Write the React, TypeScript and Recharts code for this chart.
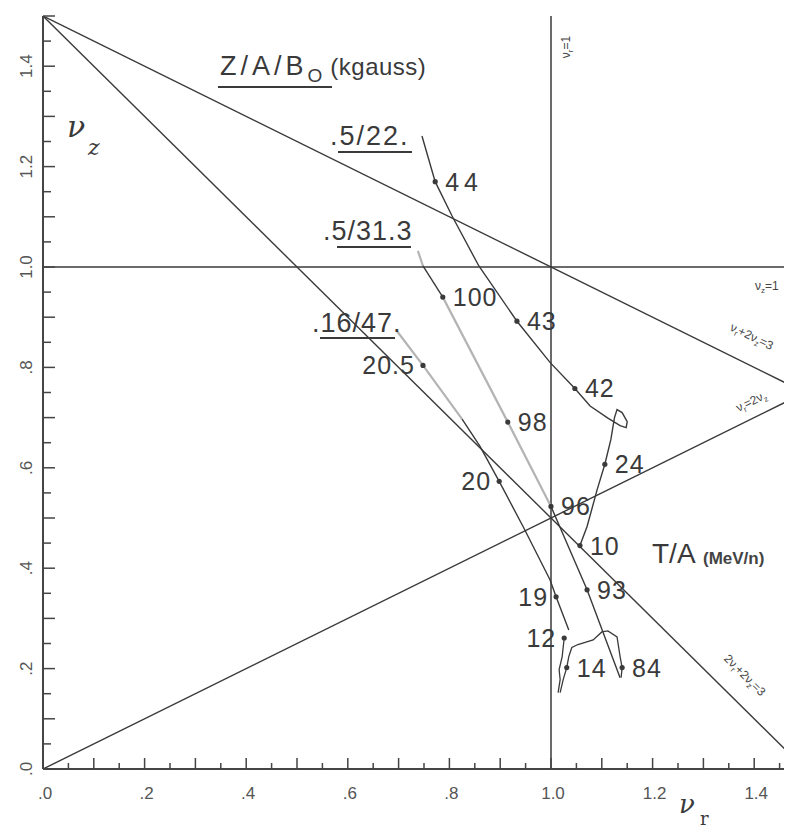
import React from 'react';
import { ComposedChart, Line, Scatter, XAxis, YAxis, ReferenceLine } from 'recharts';

// ---------- data ----------
const TICKS = [0, 0.05, 0.1, 0.15, 0.2, 0.25, 0.3, 0.35, 0.4, 0.45, 0.5, 0.55, 0.6, 0.65, 0.7, 0.75, 0.8, 0.85, 0.9, 0.95, 1.0, 1.05, 1.1, 1.15, 1.2, 1.25, 1.3, 1.35, 1.4, 1.45, 1.5];
const LABEL_VALUES = [0, 0.2, 0.4, 0.6, 0.8, 1.0, 1.2, 1.4];
const LABEL_TEXTS = ['.0', '.2', '.4', '.6', '.8', '1.0', '1.2', '1.4'];

// resonance lines (endpoints)
const lineR2Z3 = [{ r: 0, z: 1.5 }, { r: 1.5, z: 0.75 }];      // νr + 2νz = 3
const line2R2Z3 = [{ r: 0, z: 1.5 }, { r: 1.5, z: 0 }];        // 2νr + 2νz = 3
const lineR2Z = [{ r: 0, z: 0 }, { r: 1.5, z: 0.75 }];          // νr = 2νz

// working curves
const curve522 = [
  { r: 0.746, z: 1.261 }, { r: 0.772, z: 1.170 }, { r: 0.805, z: 1.102 }, { r: 0.858, z: 1.002 },
  { r: 0.933, z: 0.892 }, { r: 0.998, z: 0.810 }, { r: 1.047, z: 0.758 }, { r: 1.077, z: 0.723 },
  { r: 1.112, z: 0.699 }, { r: 1.136, z: 0.684 }, { r: 1.148, z: 0.680 }, { r: 1.150, z: 0.692 },
  { r: 1.140, z: 0.710 }, { r: 1.130, z: 0.716 }, { r: 1.125, z: 0.700 }, { r: 1.122, z: 0.682 },
  { r: 1.118, z: 0.657 }, { r: 1.106, z: 0.607 }, { r: 1.091, z: 0.557 },
  { r: 1.071, z: 0.483 }, { r: 1.057, z: 0.445 },
];
const curve313Faint1 = [{ r: 0.738, z: 1.032 }, { r: 0.748, z: 1.002 }];
const curve313Dark1 = [{ r: 0.748, z: 1.002 }, { r: 0.787, z: 0.940 }];
const curve313Faint2 = [{ r: 0.787, z: 0.940 }, { r: 0.915, z: 0.691 }, { r: 1.0, z: 0.523 }];
const curve313Dark2 = [{ r: 1.0, z: 0.523 }, { r: 1.071, z: 0.357 }, { r: 1.136, z: 0.182 }];
const curve1647Faint = [{ r: 0.697, z: 0.872 }, { r: 0.748, z: 0.804 }, { r: 0.825, z: 0.697 }];
const curve1647Dark = [
  { r: 0.825, z: 0.697 }, { r: 0.860, z: 0.643 }, { r: 0.898, z: 0.573 }, { r: 0.945, z: 0.483 },
  { r: 0.998, z: 0.377 }, { r: 1.010, z: 0.343 }, { r: 1.035, z: 0.277 },
];
const curveTail12 = [
  { r: 1.026, z: 0.261 }, { r: 1.022, z: 0.224 }, { r: 1.016, z: 0.198 }, { r: 1.018, z: 0.178 }, { r: 1.014, z: 0.152 },
];
const curveTail14 = [
  { r: 1.018, z: 0.152 }, { r: 1.024, z: 0.178 }, { r: 1.031, z: 0.202 }, { r: 1.035, z: 0.224 },
  { r: 1.041, z: 0.242 }, { r: 1.053, z: 0.248 }, { r: 1.083, z: 0.257 }, { r: 1.100, z: 0.273 },
  { r: 1.112, z: 0.275 }, { r: 1.130, z: 0.263 }, { r: 1.136, z: 0.224 }, { r: 1.140, z: 0.202 },
  { r: 1.138, z: 0.182 },
];

// energy markers (T/A, MeV/n)
const dotLabels = ['44', '43', '42', '24', '10', '100', '98', '96', '93', '84', '20.5', '20', '19', '12', '14'];
const dotR = [0.772, 0.933, 1.047, 1.106, 1.057, 0.787, 0.915, 1.000, 1.071, 1.140, 0.748, 0.898, 1.010, 1.026, 1.031];
const dotZ = [1.170, 0.892, 0.758, 0.607, 0.445, 0.940, 0.691, 0.523, 0.357, 0.202, 0.804, 0.573, 0.343, 0.261, 0.202];
const dots = dotLabels.map((label, i) => ({ label, r: dotR[i], z: dotZ[i] }));

// ---------- styles ----------
const INK = '#3a3a3a';
const AXIS = '#454545';
const FAINT = '#b4b4b4';
const SANS = '"Liberation Sans", Arial, sans-serif';
const LEFT_SIDE = new Set(['20.5', '20', '19', '12']);

const isMajor = (v: number) => Math.round(v * 100) % 10 === 0;
const labelFor = (v: number) => {
  const i = LABEL_VALUES.findIndex((t) => Math.abs(t - v) < 1e-6);
  return i >= 0 ? LABEL_TEXTS[i] : null;
};

const BottomTick = (p: any) => {
  const { x, y, payload } = p;
  const v = payload.value;
  const lab = labelFor(v);
  return (
    <g>
      <line x1={x} x2={x} y1={y} y2={y - (isMajor(v) ? 11 : 6)} stroke={AXIS} strokeWidth={1.5} />
      {lab && (
        <text x={x + 2} y={y + 30} textAnchor="middle" fontSize={17} fontFamily={SANS} fill="#555">
          {lab}
        </text>
      )}
    </g>
  );
};
const TopTick = (p: any) => {
  const { x, y, payload } = p;
  return <line x1={x} x2={x} y1={y} y2={y + (isMajor(payload.value) ? 11 : 7)} stroke={AXIS} strokeWidth={1.5} />;
};
const LeftTick = (p: any) => {
  const { x, y, payload } = p;
  const v = payload.value;
  const lab = labelFor(v);
  const lx = x - 17;
  return (
    <g>
      <line x1={x} x2={x + (isMajor(v) ? 12 : 8)} y1={y} y2={y} stroke={AXIS} strokeWidth={1.5} />
      {lab && (
        <text x={lx} y={y + 6} textAnchor="middle" fontSize={17} fontFamily={SANS} fill="#555"
          transform={`rotate(-90, ${lx}, ${y})`}>
          {lab}
        </text>
      )}
    </g>
  );
};
const RightTick = (p: any) => {
  const { x, y, payload } = p;
  return <line x1={x} x2={x - (isMajor(payload.value) ? 15 : 8)} y1={y} y2={y} stroke={AXIS} strokeWidth={1.5} />;
};

const DotShape = (p: any) => {
  const { cx, cy, payload } = p;
  const left = LEFT_SIDE.has(payload.label);
  return (
    <g>
      <circle cx={cx} cy={cy} r={2.6} fill={INK} />
      <text x={left ? cx - 8 : cx + 10} y={cy + 9} textAnchor={left ? 'end' : 'start'} fontSize={25}
        fontFamily={SANS} fill={INK} letterSpacing={payload.label === '44' ? 5 : 1}>
        {payload.label}
      </text>
    </g>
  );
};

const common = { xAxisId: 'b', yAxisId: 'l', dataKey: 'z', dot: false, isAnimationActive: false, activeDot: false, legendType: 'none' as const };

const Sub = ({ children, size = 8, d = 3 }: any) => (
  <tspan dy={d} fontSize={size}>{children}</tspan>
);

export default function App() {
  const W = 784;
  const H = 822;
  return (
    <div style={{ position: 'relative', width: W, height: H }}>
      <ComposedChart width={W} height={H} margin={{ top: 8, right: -13, left: 0, bottom: 0 }}>
        <XAxis xAxisId="b" type="number" dataKey="r" domain={[0, 1.5]} ticks={TICKS} interval={0}
          allowDataOverflow height={61} tickSize={0} tickMargin={0} tickLine={false}
          axisLine={{ stroke: AXIS, strokeWidth: 2 }} tick={<BottomTick />} />
        <XAxis xAxisId="t" orientation="top" type="number" dataKey="r" domain={[0, 1.5]} ticks={TICKS} interval={0}
          allowDataOverflow height={0} tickSize={0} tickMargin={0} tickLine={false}
          axisLine={{ stroke: AXIS, strokeWidth: 2 }} tick={<TopTick />} />
        <YAxis yAxisId="l" type="number" dataKey="z" domain={[0, 1.5]} ticks={TICKS} interval={0}
          allowDataOverflow width={35} tickSize={0} tickMargin={0} tickLine={false}
          axisLine={{ stroke: AXIS, strokeWidth: 2 }} tick={<LeftTick />} />
        <YAxis yAxisId="r" orientation="right" type="number" dataKey="z" domain={[0, 1.5]} ticks={TICKS} interval={0}
          allowDataOverflow width={0} tickSize={0} tickMargin={0} tickLine={false}
          axisLine={{ stroke: AXIS, strokeWidth: 2 }} tick={<RightTick />} />

        <ReferenceLine xAxisId="b" yAxisId="l" y={1} stroke={INK} strokeWidth={1.5} />
        <ReferenceLine xAxisId="b" yAxisId="l" x={1} stroke={INK} strokeWidth={1.5} />

        <Line {...common} data={lineR2Z3} stroke={INK} strokeWidth={1.4} />
        <Line {...common} data={line2R2Z3} stroke={INK} strokeWidth={1.4} />
        <Line {...common} data={lineR2Z} stroke={INK} strokeWidth={1.4} />

        <Line {...common} data={curve313Faint1} stroke={FAINT} strokeWidth={2.2} />
        <Line {...common} data={curve313Faint2} stroke={FAINT} strokeWidth={2.2} />
        <Line {...common} data={curve1647Faint} stroke={FAINT} strokeWidth={2.2} />
        <Line {...common} data={curve522} stroke={INK} strokeWidth={1.4} />
        <Line {...common} data={curve313Dark1} stroke={INK} strokeWidth={1.4} />
        <Line {...common} data={curve313Dark2} stroke={INK} strokeWidth={1.4} />
        <Line {...common} data={curve1647Dark} stroke={INK} strokeWidth={1.4} />
        <Line {...common} data={curveTail12} stroke={INK} strokeWidth={1.3} />
        <Line {...common} data={curveTail14} stroke={INK} strokeWidth={1.3} />

        <Scatter xAxisId="b" yAxisId="l" data={dots} dataKey="z" isAnimationActive={false} shape={<DotShape />} legendType="none" />
      </ComposedChart>

      <svg width={W} height={H} style={{ position: 'absolute', left: 0, top: 0, pointerEvents: 'none' }}>
        <g fontFamily={SANS} fill={INK}>
          {/* title */}
          <text x={212} y={67} fontSize={27} letterSpacing={4}>
            Z/A/B<tspan dy={7} fontSize={19} letterSpacing={0}>O</tspan>
            <tspan dy={-7} dx={8} fontSize={24} letterSpacing={0.5}>(kgauss)</tspan>
          </text>
          <line x1={210} x2={324} y1={79} y2={79} stroke={INK} strokeWidth={2} />

          {/* curve labels */}
          <text x={322} y={137} fontSize={27} letterSpacing={2}>.5/22.</text>
          <line x1={330} x2={404} y1={144} y2={144} stroke={INK} strokeWidth={2} />
          <text x={315} y={232} fontSize={27} letterSpacing={1}>.5/31.3</text>
          <line x1={329} x2={403} y1={239} y2={239} stroke={INK} strokeWidth={2} />
          <text x={304} y={324} fontSize={27} letterSpacing={1}>.16/47.</text>
          <line x1={312} x2={387} y1={330} y2={330} stroke={INK} strokeWidth={2} />

          {/* T/A */}
          <text x={644} y={555} fontSize={28}>T/A</text>
          <text x={695} y={556} fontSize={17} fontWeight="bold" fill="#444">(MeV/n)</text>
        </g>

        {/* axis names */}
        <g fontFamily='"DejaVu Serif", serif' fontStyle="italic" fill={INK}>
          <text x={59} y={129} fontSize={30}>ν</text>
          <text x={80} y={147} fontSize={22}>z</text>
          <text x={671} y={805} fontSize={26}>ν</text>
          <text x={692} y={817} fontSize={18} fontStyle="normal">r</text>
        </g>

        {/* resonance labels */}
        <g fontFamily={SANS} fill="#444" fontSize={12}>
          <text x={562} y={39} textAnchor="middle" transform="rotate(-90, 562, 39)">
            ν<Sub>r</Sub><tspan dy={-3}>=1</tspan>
          </text>
          <text x={747} y={282}>
            ν<Sub>z</Sub><tspan dy={-3}>=1</tspan>
          </text>
          <text x={742} y={332} textAnchor="middle" transform="rotate(26, 742, 332)">
            ν<Sub>r</Sub><tspan dy={-3}>+2ν</tspan><Sub>z</Sub><tspan dy={-3}>=3</tspan>
          </text>
          <text x={745} y={397} textAnchor="middle" transform="rotate(-26, 745, 397)">
            ν<Sub>r</Sub><tspan dy={-3}>=2ν</tspan><Sub>z</Sub>
          </text>
          <text x={734} y={670} textAnchor="middle" transform="rotate(45, 734, 670)">
            2ν<Sub>r</Sub><tspan dy={-3}>+2ν</tspan><Sub>z</Sub><tspan dy={-3}>=3</tspan>
          </text>
        </g>
      </svg>
    </div>
  );
}
